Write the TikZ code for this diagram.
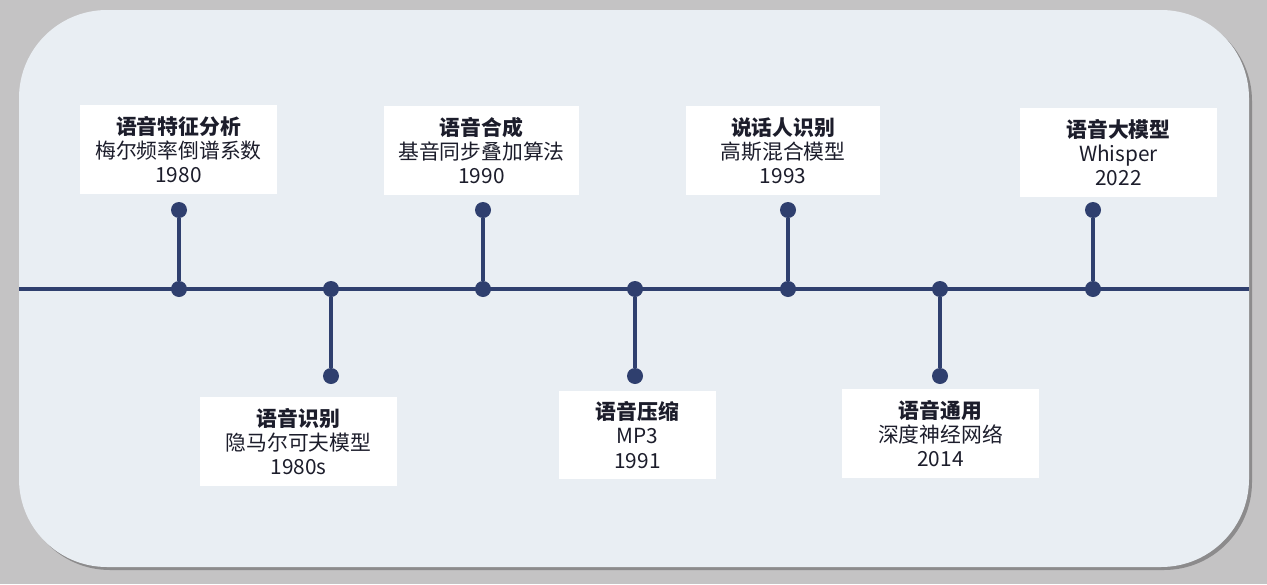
\documentclass[tikz,border=0pt]{standalone}
\usepackage{fontspec}
\setmainfont{Noto Sans CJK SC}
\definecolor{outerbg}{HTML}{C4C3C4}
\definecolor{panel}{HTML}{E9EEF3}
\definecolor{shadowc}{HTML}{8C8B8C}
\definecolor{navy}{HTML}{2F3F6E}
\definecolor{txt}{HTML}{1C1D2B}
\begin{document}
\begin{tikzpicture}[x=1pt,y=-1pt,
  dot/.style={circle,fill=navy,draw=none,minimum size=16pt,inner sep=0pt},
  stem/.style={draw=navy,line width=3.6pt},
  box/.style={fill=white,draw=none,inner sep=0pt,align=center,text=txt,
    font=\fontsize{20.8}{24.2}\selectfont,minimum height=89pt},
]
\useasboundingbox (0,0) rectangle (1267,584);
\fill[outerbg] (0,0) rectangle (1267,584);
\fill[shadowc,rounded corners=88pt] (22,13) rectangle (1252,570);
\fill[panel,rounded corners=88pt] (19,10) rectangle (1249,567);
\coordinate (L) at (19,289);
\coordinate (R) at (1249,289);
\draw[stem] (L) -- (R);
% main dots
\foreach \i/\x in {1/179,2/331,3/483,4/635,5/788,6/940,7/1093}
  \node[dot] (m\i) at (\x,289) {};
% up ends
\node[dot] (e1) at (179,210) {};
\node[dot] (e3) at (483,210) {};
\node[dot] (e5) at (788,210) {};
\node[dot] (e7) at (1093,210) {};
% down ends
\node[dot] (e2) at (331,376) {};
\node[dot] (e4) at (635,376) {};
\node[dot] (e6) at (940,376) {};
\foreach \i in {1,...,7} \draw[stem] (m\i) -- (e\i);
% boxes
\node[box,minimum width=197pt] (b1) at (178.5,149.5) {\textbf{语音特征分析}\\梅尔频率倒谱系数\\1980};
\node[box,minimum width=197pt] (b2) at (298.5,441.5) {\textbf{语音识别}\\隐马尔可夫模型\\1980s};
\node[box,minimum width=195pt] (b3) at (481.5,150.5) {\textbf{语音合成}\\基音同步叠加算法\\1990};
\node[box,minimum width=157pt,minimum height=88pt] (b4) at (637.5,435) {\textbf{语音压缩}\\MP3\\1991};
\node[box,minimum width=194pt] (b5) at (783,150.5) {\textbf{说话人识别}\\高斯混合模型\\1993};
\node[box,minimum width=197pt] (b6) at (940.5,433.5) {\textbf{语音通用}\\深度神经网络\\2014};
\node[box,minimum width=197pt] (b7) at (1118.5,152.5) {\textbf{语音大模型}\\Whisper\\2022};
\end{tikzpicture}
\end{document}
